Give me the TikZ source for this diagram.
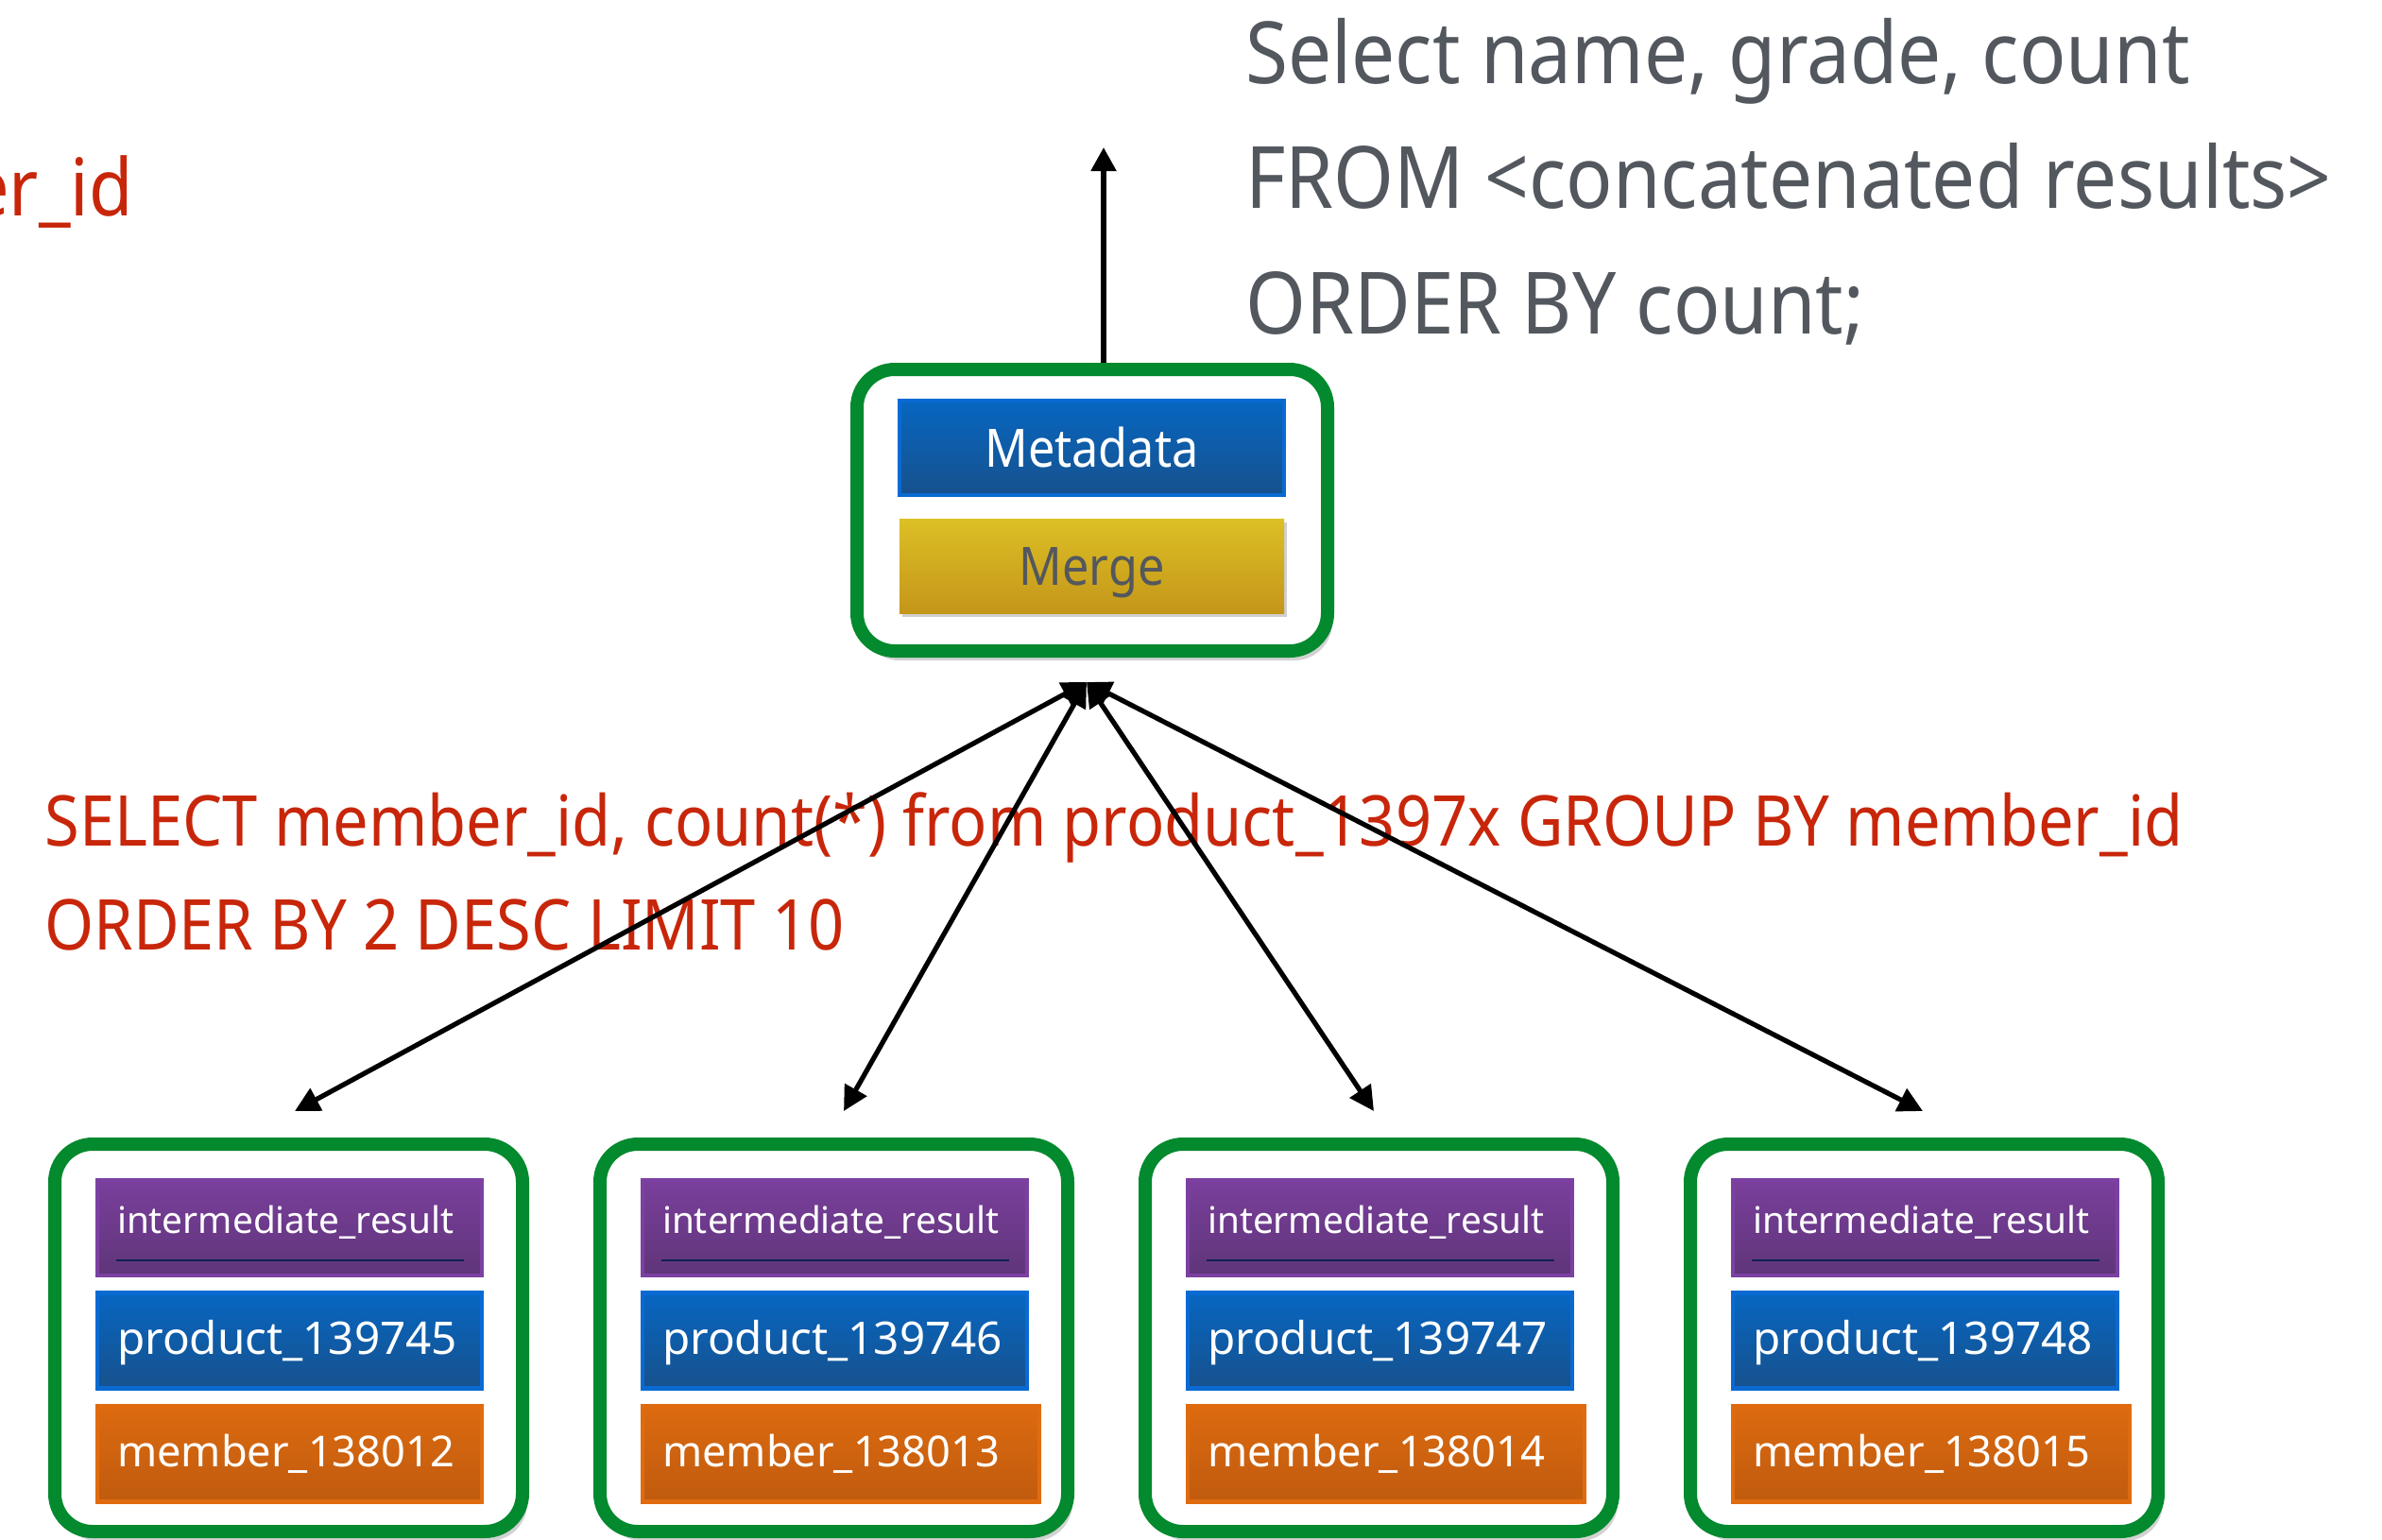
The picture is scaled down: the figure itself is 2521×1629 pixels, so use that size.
\documentclass[tikz,border=0pt]{standalone}
\usepackage{fontspec}
\setmainfont{Noto Sans}
\newfontfamily\narrowfont{Noto Sans}[FakeStretch=0.9]
\usetikzlibrary{arrows.meta,shadows,calc}

\definecolor{frameGreen}{HTML}{03892E}
\definecolor{blueTop}{HTML}{0766C1}
\definecolor{blueBot}{HTML}{17518D}
\definecolor{blueEdge}{HTML}{0A6AD2}
\definecolor{purpleTop}{HTML}{7A3F9C}
\definecolor{purpleBot}{HTML}{5F3579}
\definecolor{purpleEdge}{HTML}{7C40A2}
\definecolor{orangeTop}{HTML}{DC6A10}
\definecolor{orangeBot}{HTML}{C05B0E}
\definecolor{orangeEdge}{HTML}{E06B0F}
\definecolor{goldTop}{HTML}{DCBF25}
\definecolor{goldBot}{HTML}{C4961A}
\definecolor{navyLine}{HTML}{0D2152}
\definecolor{slateText}{HTML}{53575E}
\definecolor{sqlRed}{HTML}{C8260A}

\tikzset{
  frame/.style={draw=frameGreen, line width=7pt, rounded corners=20pt, fill=white,
    drop shadow={shadow xshift=2.5pt, shadow yshift=-5pt, opacity=0.25, fill=black!70}},
  tile/.style={inner sep=0pt, line width=2.2pt, minimum height=50.5pt, text=white},
  lefttile/.style={tile, inner xsep=10.5pt, text width=#1, align=left},
  bluetile/.style={top color=blueTop, bottom color=blueBot, draw=blueEdge},
  purpletile/.style={top color=purpleTop, bottom color=purpleBot, draw=purpleEdge},
  orangetile/.style={top color=orangeTop, bottom color=orangeBot, draw=orangeEdge},
  goldtile/.style={top color=goldTop, bottom color=goldBot, draw=none,
    drop shadow={shadow xshift=1.5pt, shadow yshift=-2pt, opacity=0.3, fill=black!60}},
  irfont/.style={font=\fontsize{19.4}{22}\selectfont, text height=11pt, text depth=5.5pt},
  prfont/.style={font=\fontsize{23.8}{26}\selectfont, text height=17pt, text depth=3pt},
  mbfont/.style={font=\fontsize{22.6}{26}\selectfont, text height=16pt, text depth=3pt},
  headfont/.style={font=\narrowfont\fontsize{28}{32}\selectfont, text height=20pt, text depth=0pt},
  graytxt/.style={inner sep=0pt, anchor=base west, text=slateText,
    font=\narrowfont\fontsize{45.5}{54}\selectfont},
  redtxt/.style={inner sep=0pt, anchor=base west, text=sqlRed,
    font=\narrowfont\fontsize{37.1}{44}\selectfont},
  conn/.style={line width=2.6pt,
    arrows={Triangle[length=13pt,width=13pt]-Triangle[length=13pt,width=13pt]}},
  uplink/.style={line width=2.6pt, arrows={-Triangle[length=12.5pt,width=13pt]}}
}

\begin{document}
\begin{tikzpicture}[x=0.5pt,y=-0.5pt]
  \clip (0,0) rectangle (2521,1629);
  \fill[white] (0,0) rectangle (2521,1629);

  % coordinator node: metadata and merge
  \node[frame, minimum width=249pt, minimum height=149pt] (top) at (1156,540) {};
  \node[tile, bluetile, headfont, minimum width=203.5pt, minimum height=50pt] (meta) at (1155.5,474) {Metadata};
  \node[tile, goldtile, headfont, text=slateText, minimum width=203.5pt, minimum height=50pt] (merge) at (1155.5,599) {Merge};

  % result goes upward
  \coordinate (out) at (1168,156);
  \draw[uplink] (top.north -| out) -- (out);

  % final query
  \node[graytxt] (q1) at (1318,88) {Select name, grade, count};
  \node[graytxt] (q2) at (1318,220) {FROM <concatenated results>};
  \node[graytxt] (q3) at (1318,353) {ORDER BY count;};

  % partial query per shard
  \node[redtxt, anchor=base east, font=\narrowfont\fontsize{42}{48}\selectfont] (e1) at (141,228) {er\_id};
  \node[redtxt] (s1) at (47,895) {SELECT member\_id, count(*) from product\_1397x GROUP BY member\_id};
  \node[redtxt] (s2) at (47,1005) {ORDER BY 2 DESC LIMIT 10};

  % worker nodes
  \foreach \i/\pn/\mn/\ow in {1/139745/138012/407, 2/139746/138013/420, 3/139747/138014/420, 4/139748/138015/420}{
    \pgfmathsetmacro{\L}{51+577*(\i-1)}
    \pgfmathsetmacro{\fx}{\L+254.5}
    \pgfmathsetmacro{\tx}{\L+255.5}
    \pgfmathsetmacro{\ox}{\L+52+\ow/2}
    \pgfmathsetmacro{\otw}{(\ow-42)/2}
    \node[frame, minimum width=247.5pt, minimum height=205pt] (f\i) at (\fx,1416) {};
    \node[lefttile=182.5pt, purpletile, irfont] (ir\i) at (\tx,1299.5) {intermediate\_result};
    \draw[navyLine, line width=1.2pt] ($(ir\i.south west)+(22,-18)$) -- ($(ir\i.south east)+(-21,-18)$);
    \node[lefttile=182.5pt, bluetile, prfont] (pr\i) at (\tx,1419) {product\_\pn};
    \node[lefttile=\otw pt, orangetile, mbfont] (mb\i) at (\ox,1539) {member\_\mn};
  }

  % scatter / gather links
  \coordinate (hub) at (1150,722);
  \coordinate (t1) at (312,1176);
  \coordinate (t2) at (893,1176);
  \coordinate (t3) at (1454,1176);
  \coordinate (t4) at (2035,1176);
  \foreach \i in {1,2,3,4}{
    \draw[conn] (hub) -- (t\i);
  }
\end{tikzpicture}
\end{document}
